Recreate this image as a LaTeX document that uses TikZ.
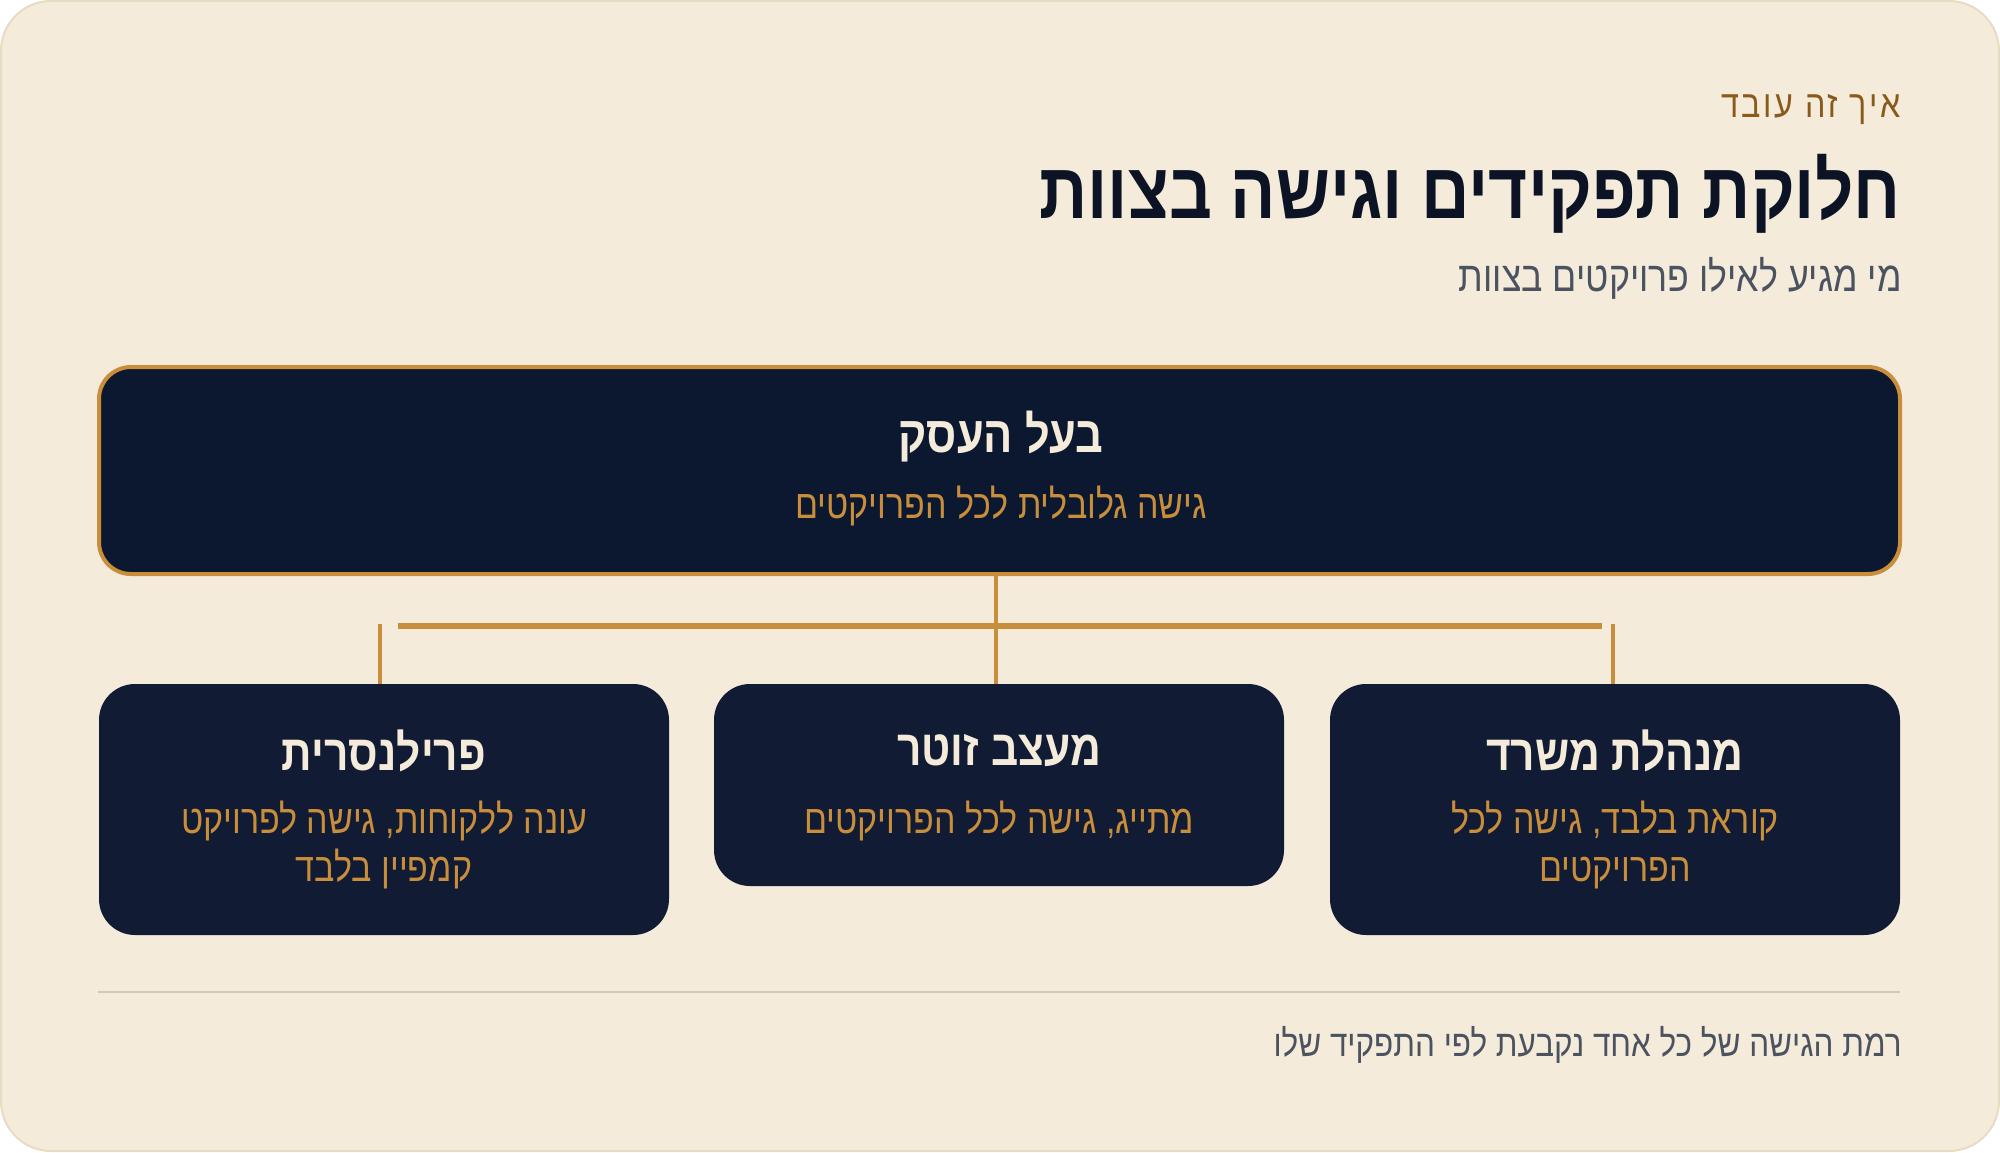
\documentclass[tikz,border=0pt]{standalone}
\usepackage{fontspec}
\usepackage{tikz}
\usetikzlibrary{positioning}
\TeXXeTstate=1
\newfontfamily\hebfont[Script=Hebrew,FakeStretch=0.85]{Liberation Sans}
\definecolor{paper}{HTML}{F4EBDB}
\definecolor{paperline}{HTML}{E6DCC3}
\definecolor{navy}{HTML}{0C1830}
\definecolor{navylight}{HTML}{111B33}
\definecolor{gold}{HTML}{C98E3C}
\definecolor{cream}{HTML}{F5EBDB}
\definecolor{brownlabel}{HTML}{8A5A1A}
\definecolor{inktitle}{HTML}{0B1324}
\definecolor{inkgray}{HTML}{4B5260}
\definecolor{rulegray}{HTML}{D2C8B9}
\tikzset{
  rolebox/.style={fill=navylight,rounded corners=36pt,minimum width=570pt,inner sep=0pt},
  roletitle/.style={text=cream,font=\hebfont\bfseries\fontsize{50}{56}\selectfont},
  rolenote/.style={text=gold,font=\hebfont\fontsize{40}{48}\selectfont,align=center},
  link/.style={draw=gold,line width=4pt},
}
\begin{document}
\begin{tikzpicture}[x=1pt,y=-1pt]
\useasboundingbox (0,0) rectangle (2000,1152);
% card
\draw[fill=paper,draw=paperline,line width=2pt,rounded corners=50pt] (1,1) rectangle (1999,1151);
% heading
\node[anchor=east,text=brownlabel,font=\hebfont\fontsize{38}{44}\selectfont\addfontfeature{LetterSpace=7}] (kicker) at (1904,110) {\beginR איך זה עובד\endR};
\node[anchor=east,text=inktitle,font=\hebfont\bfseries\fontsize{79}{86}\selectfont] (title) at (1904,194) {\beginR חלוקת תפקידים וגישה בצוות\endR};
\node[anchor=east,text=inkgray,font=\hebfont\fontsize{42}{48}\selectfont] (subtitle) at (1905,278) {\beginR מי מגיע לאילו פרויקטים בצוות\endR};
% owner box
\draw[fill=navy,draw=gold,line width=4pt,rounded corners=32pt] (99,367) rectangle (1900,574);
\node[roletitle,font=\hebfont\bfseries\fontsize{51}{56}\selectfont] (owner) at (1001,437) {\beginR בעל העסק\endR};
\node[rolenote] (ownernote) at (1001,506) {\beginR גישה גלובלית לכל הפרויקטים\endR};
\coordinate (ownerbottom) at (996,574);
% role boxes
\node[rolebox,minimum height=251pt] (manager) at (1615,809.5) {};
\node[rolebox,minimum height=202pt] (designer) at (999,785) {};
\node[rolebox,minimum height=251pt] (freelancer) at (384,809.5) {};
\node[roletitle] (managertitle) at (1615,751) {\beginR מנהלת משרד\endR};
\node[rolenote] (managernote) at (1615,845) {\beginR קוראת בלבד, גישה לכל\endR\\\beginR הפרויקטים\endR};
\node[roletitle] (designertitle) at (999,751) {\beginR מעצב זוטר\endR};
\node[rolenote] (designernote) at (999,821) {\beginR מתייג, גישה לכל הפרויקטים\endR};
\node[roletitle] (freelancertitle) at (384,751) {\beginR פרילנסרית\endR};
\node[rolenote] (freelancernote) at (384,845) {\beginR עונה ללקוחות, גישה לפרויקט\endR\\\beginR קמפיין בלבד\endR};
% connectors
\coordinate (busleft) at (398,626);
\coordinate (busright) at (1602,626);
\coordinate (dropleft) at (380,624);
\coordinate (dropright) at (1613,624);
\draw[link,line width=6pt] (busleft) -- (busright);
\draw[link] (ownerbottom) -- (ownerbottom |- designer.north);
\draw[link] (dropleft) -- (dropleft |- freelancer.north);
\draw[link] (dropright) -- (dropright |- manager.north);
% footer
\draw[rulegray,line width=2pt] (98,992) coordinate (ruleleft) -- (1900,992) coordinate (ruleright);
\node[anchor=east,text=inkgray,font=\hebfont\fontsize{37}{42}\selectfont] (footer) at (1905,1045) {\beginR רמת הגישה של כל אחד נקבעת לפי התפקיד שלו\endR};
\end{tikzpicture}
\end{document}
